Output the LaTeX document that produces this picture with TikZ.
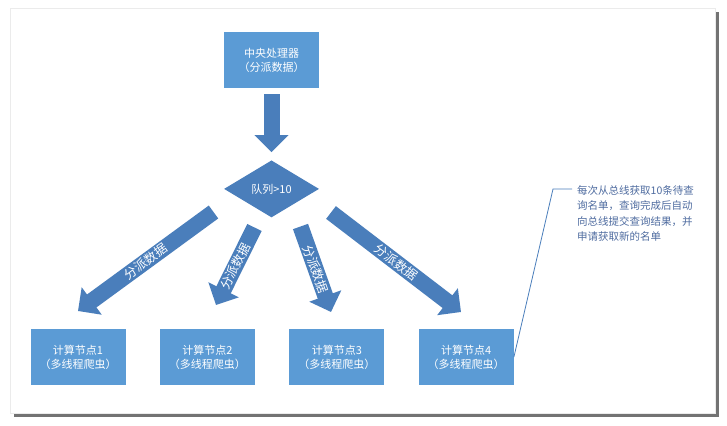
\documentclass[tikz,border=0pt]{standalone}
\usepackage{fontspec}
\newfontfamily\cjk{Noto Sans CJK SC}
\usetikzlibrary{shapes.geometric,positioning,arrows.meta}
\definecolor{boxblue}{RGB}{91,155,213}
\definecolor{arrowblue}{RGB}{74,126,187}
\definecolor{noteblue}{RGB}{79,108,160}

\begin{document}
\begin{tikzpicture} [
					x=1pt,y=-1pt,
					box/.style={rectangle,fill=boxblue,text=white,inner sep=0pt,
						minimum width=95pt,minimum height=56pt,align=center,
						font=\cjk\fontsize{11}{14}\selectfont},
					decision/.style={diamond,fill=arrowblue,text=white,inner sep=0pt,
						minimum width=95pt,minimum height=57pt,
						font=\cjk\fontsize{11}{14}\selectfont},
					block/.style={draw=arrowblue,line width=16pt,
						-{Triangle[length=17pt,width=33pt]}},
					lbl/.style={sloped,midway,text=white,inner sep=0pt,
						font=\cjk\fontsize{12.5}{12.5}\selectfont},
					callout/.style={draw=arrowblue,line width=0.8pt},
					note/.style={align=left,text=noteblue,inner sep=0pt,
						font=\cjk\fontsize{10.5}{15.5}\selectfont},
					node distance=34pt,
				]
				\useasboundingbox (0,0) rectangle (727,425);
				% page with shadow
				\fill[black!55] (14,12) rectangle (719,417);
				\fill[white] (10,8) rectangle (715,413);
				\draw[black!8] (10,8) rectangle (715,413);
				
				\node[box] (cpu) at (271.5,60) {中央处理器\\（分派数据）};
				\node[decision] (queue) [below=72pt of cpu] {队列>10};
				
				\node[box] (n1) at (78,357) {计算节点1\\（多线程爬虫）};
				\node[box] (n2) [right=of n1] {计算节点2\\（多线程爬虫）};
				\node[box] (n3) [right=of n2] {计算节点3\\（多线程爬虫）};
				\node[box] (n4) [right=of n3] {计算节点4\\（多线程爬虫）};
				
				\draw[block,shorten <=6pt,shorten >=8pt] (cpu.south) -- (queue.north);
				
				\coordinate (t1) at (213.5,212);
				\coordinate (h1) at (78,311);
				\coordinate (t2) at (254.5,227.5);
				\coordinate (h2) at (216,305);
				\coordinate (t3) at (300.5,226.5);
				\coordinate (h3) at (331,312);
				\coordinate (t4) at (331,212.5);
				\coordinate (h4) at (461,312);
				\draw[block] (t1) -- node[lbl] {分派数据} (h1);
				\draw[block] (t2) -- node[lbl] {分派数据} (h2);
				\draw[block] (t3) -- node[lbl] {分派数据} (h3);
				\draw[block] (t4) -- node[lbl] {分派数据} (h4);
				
				% note on the right
				\coordinate (k1) at (553,189);
				\coordinate (k2) at (572,189);
				\draw[callout] (n4.east) -- (k1) -- (k2);
				\node[note,anchor=north west] (memo) at (577,185)
					{每次从总线获取10条待查\\询名单，查询完成后自动\\向总线提交查询结果，并\\申请获取新的名单};
				
			\end{tikzpicture}
\end{document}
